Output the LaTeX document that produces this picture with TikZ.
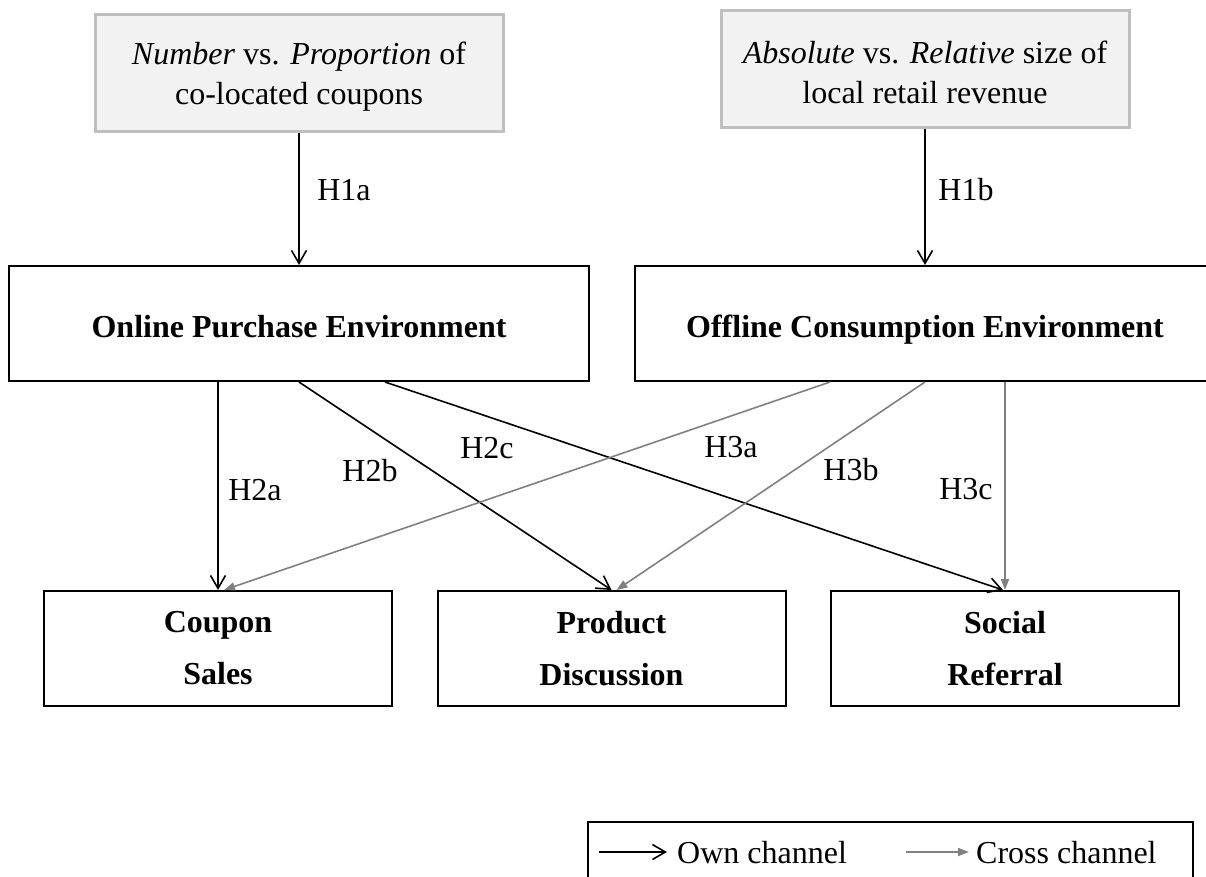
\documentclass[tikz,border=0pt]{standalone}
\usepackage{fontspec}
\setmainfont{Liberation Serif}
\usetikzlibrary{arrows.meta}
\definecolor{crossgray}{RGB}{128,128,128}
\definecolor{topfill}{RGB}{242,242,242}
\definecolor{topborder}{RGB}{191,191,191}
\begin{document}
\begin{tikzpicture}[x=1pt,y=-1pt,
  every node/.style={inner sep=0pt, font=\fontsize{32}{40}\selectfont},
  topbox/.style={draw=topborder, fill=topfill, line width=3pt, minimum width=408pt, minimum height=117pt, align=center, font=\fontsize{32}{40}\selectfont},
  envbox/.style={draw=black, line width=2pt, minimum width=580pt, minimum height=115pt, text height=27pt, text depth=0pt, font=\bfseries\fontsize{32}{40}\selectfont},
  outbox/.style={draw=black, line width=2pt, minimum width=348pt, minimum height=115pt, align=center, font=\bfseries\fontsize{32}{52}\selectfont},
  own/.style={draw=black, line width=1.6pt, -{Straight Barb[length=13pt,width=15pt,line width=1.6pt]}},
  cross/.style={draw=crossgray, line width=1.6pt, -{Triangle[length=11pt,width=8pt]}},
  hlabel/.style={font=\fontsize{32}{40}\selectfont}]
\useasboundingbox (0,0) rectangle (1206,876);
% top boxes
\node[topbox] (numprop) at (299,72.5) {\rule{0pt}{31pt}\textit{Number} vs. \textit{Proportion} of\\co-located coupons};
\node[topbox] (absrel) at (925,68.5) {\rule{0pt}{31pt}\textit{Absolute} vs. \textit{Relative} size of\\local retail revenue};
% environment boxes
\node[envbox] (online) at (299,323.5) {Online Purchase Environment};
\node[envbox] (offline) at (925,323.5) {Offline Consumption Environment};
% outcome boxes
\node[outbox] (coupon) at (218,648.5) {Coupon\\Sales};
\node[outbox] (product) at (611.5,648.5) {Product\\Discussion};
\node[outbox] (social) at (1005,648.5) {Social\\Referral};
% connectors
\draw[own] (numprop.south) -- (online.north);
\draw[own] (absrel.south) -- (offline.north);
\draw[own] (online.south -| coupon.north) -- (coupon.north);
\draw[own] (online.south) -- (product.north);
\draw[own] ([xshift=86pt]online.south) -- ([xshift=-2pt]social.north);
\draw[cross] ([xshift=-95pt]offline.south) -- ([xshift=6pt]coupon.north);
\draw[cross] (offline.south) -- ([xshift=5pt]product.north);
\draw[cross] (offline.south -| social.north) -- (social.north);
% labels
\node[hlabel] (h1a) at (344,190) {H1a};
\node[hlabel] (h1b) at (966,190) {H1b};
\node[hlabel] (h2a) at (255,490) {H2a};
\node[hlabel] (h2b) at (370,471) {H2b};
\node[hlabel] (h2c) at (487,448) {H2c};
\node[hlabel] (h3a) at (731,447) {H3a};
\node[hlabel] (h3b) at (851,470) {H3b};
\node[hlabel] (h3c) at (966,489) {H3c};
% legend
\node[draw=black, line width=2pt, minimum width=605pt, minimum height=90pt, anchor=north west] (legend) at (587,821) {};
\coordinate (o1) at (599,852);
\coordinate (o2) at (667,852);
\coordinate (c1) at (906,852);
\coordinate (c2) at (969,852);
\draw[own] (o1) -- (o2);
\draw[cross] (c1) -- (c2);
\node[hlabel, anchor=west] (ownlab) at (677,853) {Own channel};
\node[hlabel, anchor=west] (crosslab) at (976,853) {Cross channel};
\end{tikzpicture}
\end{document}
